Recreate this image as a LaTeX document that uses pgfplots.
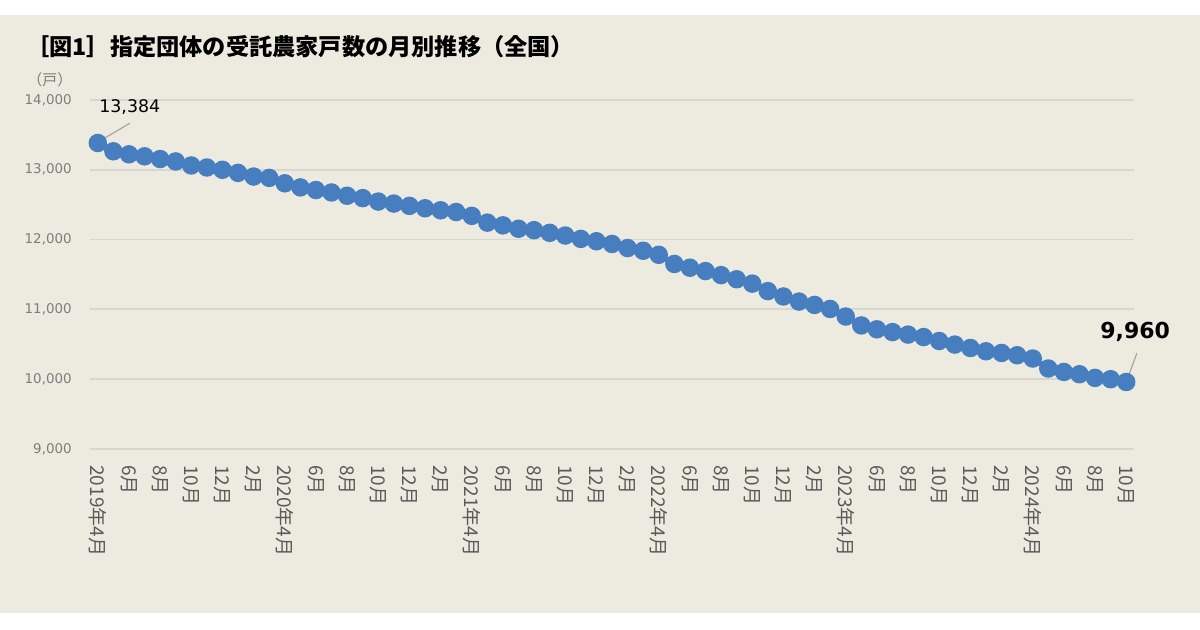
\documentclass[border=0pt]{standalone}
\usepackage{fontspec}
\setmainfont{DejaVu Sans}
\newfontfamily\jp{Noto Sans CJK JP}
\usepackage{pgfplots}
\pgfplotsset{compat=1.18}
\definecolor{bgc}{RGB}{237,234,224}
\definecolor{ser}{RGB}{70,126,192}
\definecolor{gridc}{RGB}{216,214,208}
\definecolor{ytc}{RGB}{125,125,125}
\definecolor{xtc}{RGB}{90,90,90}
\begin{document}
\begin{tikzpicture}
\useasboundingbox (-45pt,-90.5pt) rectangle (555pt,224.5pt);
\fill[white] (-45pt,-90.5pt) rectangle (555pt,224.5pt);
\fill[bgc] (-45pt,-82pt) rectangle (555pt,217pt);
\node[anchor=west, inner sep=0pt] at (-32pt,201pt) {\jp\bfseries\fontsize{11.6pt}{12pt}\selectfont ［図1］指定団体の受託農家戸数の月別推移（全国）};
\node[inner sep=0pt, text=ytc] at (-20pt,184.5pt) {\jp\fontsize{7.5pt}{8pt}\selectfont （戸）};
\begin{axis}[
  at={(0,0)}, anchor=south west,
  scale only axis, width=522pt, height=174.5pt,
  xmin=-0.5, xmax=66.5, ymin=9000, ymax=14000,
  ytick={9000,10000,...,14000},
  scaled y ticks=false,
  xtick={0,2,...,66},
  xticklabels={2019年4月,6月,8月,10月,12月,2月,2020年4月,6月,8月,10月,12月,2月,2021年4月,6月,8月,10月,12月,2月,2022年4月,6月,8月,10月,12月,2月,2023年4月,6月,8月,10月,12月,2月,2024年4月,6月,8月,10月},
  axis line style={draw=none},
  major tick length=0pt,
  ymajorgrids, grid style={gridc, line width=0.9pt},
  /pgf/number format/fixed,
  /pgf/number format/1000 sep={,},
  /pgf/number format/assume math mode=true,
  yticklabel style={anchor=east, inner sep=0pt, text=ytc, font=\fontsize{6.7pt}{7pt}\selectfont},
  yticklabel shift=9pt,
  xticklabel style={rotate=-90, anchor=west, inner sep=0pt, text=xtc, font=\jp\fontsize{9.5pt}{10pt}\selectfont},
  xticklabel shift=8pt,
  clip=false,
]
\addplot[color=ser, line width=2.8pt, mark=*, mark size=3.2pt, mark options={fill=ser, draw=none}] coordinates {
(0,13384) (1,13265) (2,13222) (3,13193) (4,13154) (5,13120) (6,13062) (7,13033) (8,13000) (9,12956)
(10,12903) (11,12884) (12,12806) (13,12748) (14,12710) (15,12675) (16,12628) (17,12594) (18,12545) (19,12516)
(20,12483) (21,12449) (22,12420) (23,12395) (24,12340) (25,12243) (26,12204) (27,12155) (28,12135) (29,12097)
(30,12058) (31,12010) (32,11976) (33,11937) (34,11879) (35,11840) (36,11782) (37,11651) (38,11597) (39,11549)
(40,11491) (41,11432) (42,11369) (43,11262) (44,11185) (45,11112) (46,11064) (47,11006) (48,10898) (49,10770)
(50,10715) (51,10675) (52,10639) (53,10604) (54,10547) (55,10496) (56,10447) (57,10400) (58,10376) (59,10343)
(60,10296) (61,10153) (62,10104) (63,10071) (64,10019) (65,10000) (66,9960)
};
\draw[gray!70, line width=0.6pt] ([shift={(1.85pt,1.5pt)}]axis cs:0,13384) -- ([shift={(16pt,9.85pt)}]axis cs:0,13384);
\node[inner sep=0pt, font=\fontsize{8.7pt}{9pt}\selectfont] at ([shift={(16pt,18.2pt)}]axis cs:0,13384) {13,384};
\draw[gray!70, line width=0.6pt] ([shift={(0.35pt,0.9pt)}]axis cs:66,9960) -- ([shift={(5.35pt,14.4pt)}]axis cs:66,9960);
\node[inner sep=0pt, font=\bfseries\fontsize{11pt}{12pt}\selectfont] at ([shift={(4.5pt,25pt)}]axis cs:66,9960) {9,960};
\end{axis}
\end{tikzpicture}
\end{document}
